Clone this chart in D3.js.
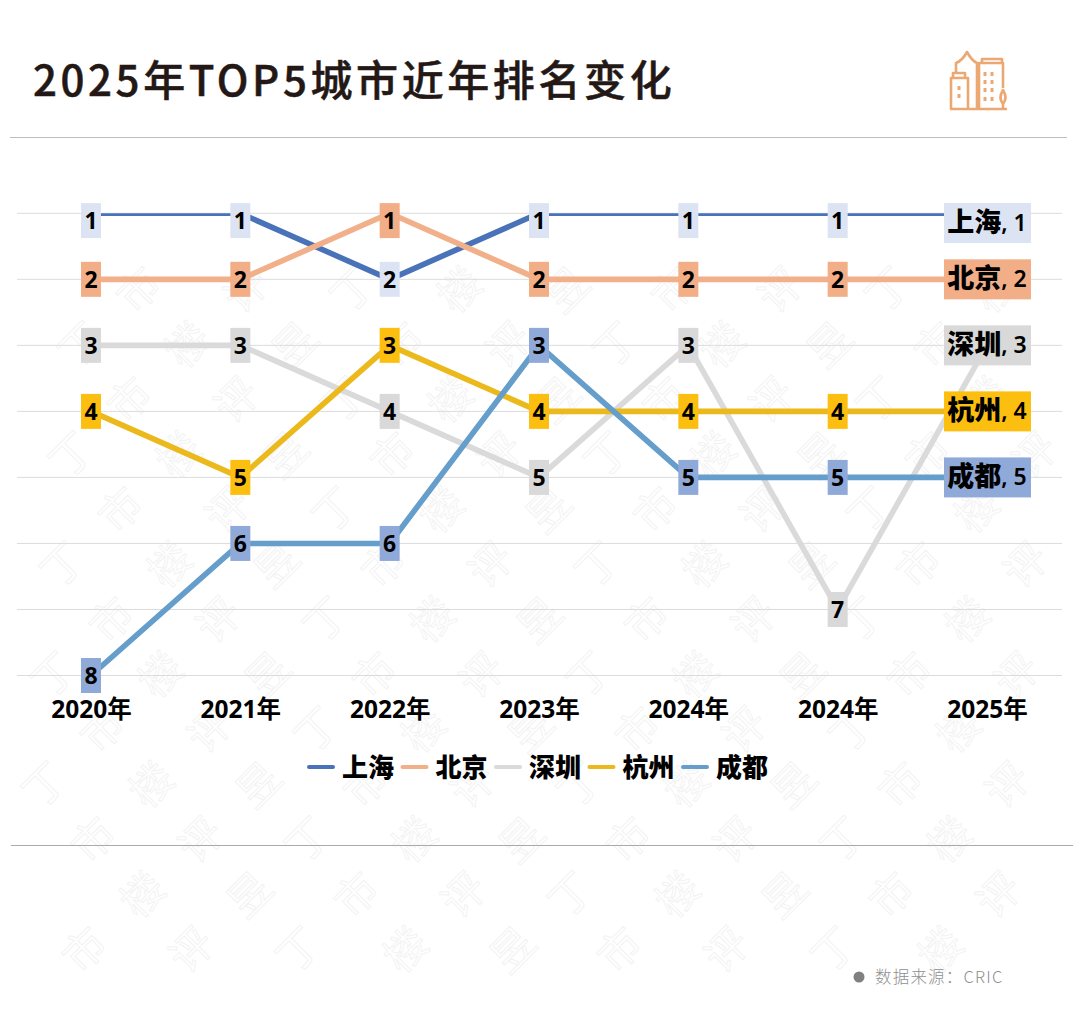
<!DOCTYPE html>
<html>
<head>
<meta charset="utf-8">
<script src="https://cdn.jsdelivr.net/npm/d3@7"></script>
<style>
html, body { margin: 0; padding: 0; background: #fff; }
svg { display: block; font-family: "Noto Sans", "Noto Sans CJK SC", sans-serif; }
</style>
</head>
<body>
<div id="chart-area"></div>
<script>
// data
var years = ["2020年", "2021年", "2022年", "2023年", "2024年", "2024年", "2025年"];
var cities = ["上海", "北京", "深圳", "杭州", "成都"];
var shanghai = [1, 1, 2, 1, 1, 1, 1];
var beijing = [2, 2, 1, 2, 2, 2, 2];
var shenzhen = [3, 3, 4, 5, 3, 7, 3];
var hangzhou = [4, 5, 3, 4, 4, 4, 4];
var chengdu = [8, 6, 6, 3, 5, 5, 5];
var ranks = [1, 2, 3, 4, 5, 6, 7, 8];

var allRanks = [shanghai, beijing, shenzhen, hangzhou, chengdu];
var lineColors = ["#4a72b8", "#f1b08a", "#dadada", "#ecb91c", "#659dcb"];
var boxColors = ["#dce4f3", "#f2ae87", "#d9d9d9", "#fdbf0f", "#8fa9d9"];
var watermarkChars = ["昱", "丁", "市", "楼", "评"];

var svg = d3.select("#chart-area")
    .append("svg")
        .attr("width", 1080)
        .attr("height", 1034);

svg.append("rect")
    .attr("width", 1080)
    .attr("height", 1034)
    .attr("fill", "#fff");

// Watermark
var wm = svg.append("g").attr("class", "watermark");
d3.range(-12, 12).forEach(function(col) {
    d3.range(0, 20).forEach(function(i) {
        var wx = 32 + col * 107 + i * 49;
        var wy = 290 + i * 55;
        if (wx < 40 || wx > 1035 || wy > 1000 || wy < 255 + (wx > 700 ? 30 : 0)) return;
        wm.append("text")
            .attr("transform", "translate(" + wx + "," + wy + ") rotate(-45)")
            .attr("text-anchor", "middle")
            .attr("dy", "0.35em")
            .attr("font-size", 42)
            .attr("font-family", "Noto Sans CJK SC")
            .attr("fill", "#fff")
            .attr("stroke", "#f3f3f3")
            .attr("stroke-width", 1)
            .text(watermarkChars[(i + ((col % 5) + 5) * 2) % 5]);
    });
});

// Title
svg.append("text")
    .attr("x", 33)
    .attr("y", 96)
    .attr("font-family", "Noto Sans CJK SC")
    .attr("font-size", 42)
    .attr("font-weight", 500)
    .attr("letter-spacing", 3.6)
    .attr("fill", "#231815")
    .attr("stroke", "#231815")
    .attr("stroke-width", 0.5)
    .text("2025年TOP5城市近年排名变化");

// Icon
var icon = svg.append("g")
    .attr("fill", "none")
    .attr("stroke", "#eba873")
    .attr("stroke-width", 2.6)
    .attr("stroke-linejoin", "round");
icon.append("path").attr("d", "M950 109H1007");
icon.append("path").attr("d", "M951 109V78H968V109M953 78V73H965V78");
icon.append("path").attr("d", "M956 73V63Q962 61 967 52Q972 61 977 63V109");
icon.append("path").attr("d", "M979 109V63H1003V88M982 63V59H1002V63");
icon.append("path").attr("d", "M1003 90Q1008 98 1003 104Q998 98 1003 90ZM1003 104V109");
icon.append("path")
    .attr("d", "M985 72v4M992 72v4M985 80v4M992 80v4M985 88v4M992 88v4M985 97v4M992 97v4M959 86v4M959 94v4")
    .attr("stroke-width", 3);

// Rules
svg.append("line")
    .attr("x1", 10).attr("x2", 1067).attr("y1", 137.5).attr("y2", 137.5)
    .attr("stroke", "#bdbdbd");
svg.append("line")
    .attr("x1", 11).attr("x2", 1073).attr("y1", 845.5).attr("y2", 845.5)
    .attr("stroke", "#aaa");

// Scales
var x = d3.scalePoint()
    .domain(d3.range(years.length))
    .range([91, 987]);

var y = d3.scaleLinear()
    .domain([1, 8])
    .range([213.3, 675.5]);

// Grid lines
svg.append("g").selectAll("line")
    .data(ranks)
    .enter().append("line")
        .attr("x1", 17)
        .attr("x2", 1062)
        .attr("y1", function(d) { return y(d); })
        .attr("y2", function(d) { return y(d); })
        .attr("stroke", "#dcdcdc")
        .attr("stroke-width", 1);

// Lines, cut at the top of the plot as in the original
svg.append("clipPath")
    .attr("id", "plot-clip")
    .append("rect")
        .attr("x", 0)
        .attr("y", y(1))
        .attr("width", 1080)
        .attr("height", 600);

var line = d3.line()
    .x(function(d, i) { return x(i); })
    .y(function(d) { return y(d); });

svg.append("g")
    .attr("clip-path", "url(#plot-clip)")
    .selectAll("path")
    .data(allRanks)
    .enter().append("path")
        .attr("d", line)
        .attr("fill", "none")
        .attr("stroke", function(d, i) { return lineColors[i]; })
        .attr("stroke-width", 5.6)
        .attr("stroke-linejoin", "round");

// Rank boxes (the last year gets the wide city label instead)
allRanks.forEach(function(values, s) {
    var g = svg.append("g");
    values.slice(0, -1).forEach(function(rank, i) {
        var cy = Math.max(y(rank), 220.6);
        g.append("rect")
            .attr("x", x(i) - 10)
            .attr("y", cy - 17.5)
            .attr("width", 20)
            .attr("height", 35)
            .attr("fill", boxColors[s]);
        g.append("text")
            .attr("x", x(i))
            .attr("y", cy)
            .attr("dy", "0.36em")
            .attr("text-anchor", "middle")
            .attr("font-size", 23)
            .attr("font-weight", 700)
            .attr("fill", "#000")
            .text(rank);
    });

    var last = values[values.length - 1];
    var ey = Math.max(y(last), 223);
    g.append("rect")
        .attr("x", 944)
        .attr("y", ey - 20)
        .attr("width", 87)
        .attr("height", 40)
        .attr("fill", boxColors[s]);
    var t = g.append("text")
        .attr("x", x(values.length - 1))
        .attr("y", ey + 9)
        .attr("text-anchor", "middle")
        .attr("fill", "#000");
    t.append("tspan")
        .attr("font-family", "Noto Sans CJK SC")
        .attr("font-size", 27)
        .attr("font-weight", 900)
        .text(cities[s]);
    t.append("tspan")
        .attr("dy", -1)
        .attr("font-size", 23)
        .attr("font-weight", 600)
        .text(", " + last);
});

// X axis
var xAxisCall = d3.axisBottom(x)
    .tickSize(0)
    .tickFormat(function(d) { return years[d]; });
var xAxis = svg.append("g")
    .attr("class", "x axis")
    .attr("transform", "translate(0,698)")
    .call(xAxisCall);
xAxis.select(".domain").remove();
xAxis.selectAll("text")
    .attr("font-family", "\"Noto Sans\", \"Noto Sans CJK SC\", sans-serif")
    .attr("font-size", 24.5)
    .attr("font-weight", 700)
    .attr("fill", "#000");

// Legend
var legend = svg.append("g").selectAll("g")
    .data(cities)
    .enter().append("g")
        .attr("transform", function(d, i) { return "translate(" + (308 + i * 93.5) + ",767)"; });
legend.append("line")
    .attr("x1", 1)
    .attr("x2", 25)
    .attr("stroke", function(d, i) { return lineColors[i]; })
    .attr("stroke-width", 4)
    .attr("stroke-linecap", "round");
legend.append("text")
    .attr("x", 34)
    .attr("dy", "0.4em")
    .attr("font-family", "Noto Sans CJK SC")
    .attr("font-size", 26)
    .attr("font-weight", 900)
    .attr("fill", "#000")
    .text(function(d) { return d; });

// Source
svg.append("circle")
    .attr("cx", 859)
    .attr("cy", 977)
    .attr("r", 5.5)
    .attr("fill", "#808080");
svg.append("text")
    .attr("x", 875)
    .attr("y", 983)
    .attr("font-family", "Noto Sans CJK SC")
    .attr("font-size", 16.5)
    .attr("font-weight", 300)
    .attr("letter-spacing", 1.2)
    .attr("fill", "#8f8f8f")
    .text("数据来源：CRIC");
</script>
</body>
</html>
